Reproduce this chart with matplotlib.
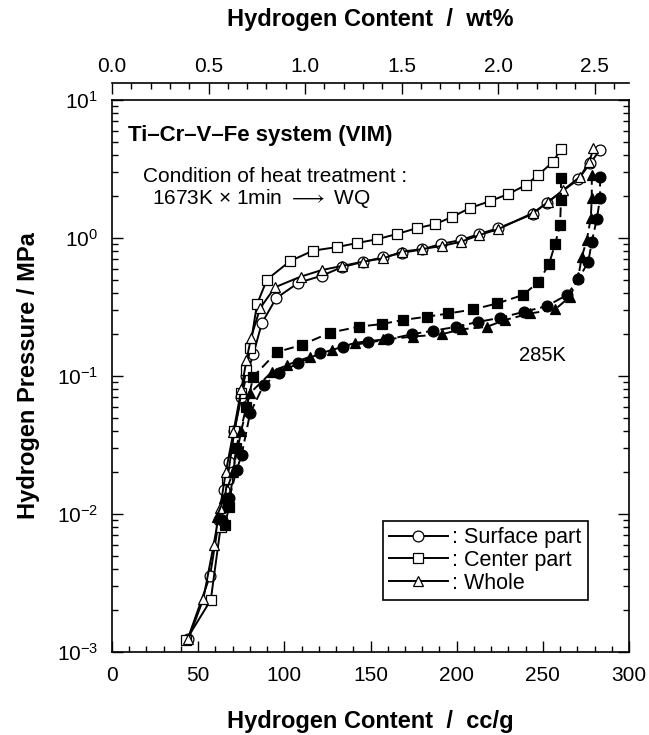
import matplotlib
matplotlib.use("Agg")
import matplotlib.pyplot as plt
from matplotlib.ticker import MultipleLocator, LogLocator, NullFormatter

plt.rcParams['font.family'] = ['Liberation Sans', 'DejaVu Sans']
plt.rcParams['mathtext.fontset'] = 'custom'
plt.rcParams['mathtext.rm'] = 'Liberation Sans'

# ---- data (cc/g, MPa) ----
surf_abs_x = [44, 56.9, 62, 65, 68, 71, 75, 78, 82, 86.9, 95.2, 108.1, 121.7, 133.3, 145.8, 157.4,
              168.5, 180.1, 190.9, 202.5, 213.1, 224.2, 244.1, 252.2, 270.6, 277.4, 283.2]
surf_abs_p = [0.00125, 0.00357, 0.009, 0.015, 0.024, 0.04, 0.07, 0.1, 0.144, 0.241, 0.366, 0.474, 0.533,
              0.614, 0.673, 0.725, 0.782, 0.828, 0.906, 0.968, 1.07, 1.18, 1.49, 1.80, 2.66, 3.48, 4.35]

cent_abs_x = [43, 57.3, 63, 67, 71, 75, 78, 80.1, 84.1, 89.9, 103.3, 116.6, 130.6, 142.2, 153.8, 165.4,
              177.0, 187.4, 197.3, 207.7, 219.3, 229.8, 240.2, 247.2, 255.9, 260.5]
cent_abs_p = [0.00122, 0.00238, 0.008, 0.018, 0.04, 0.075, 0.11, 0.16, 0.33, 0.50, 0.68, 0.81, 0.86,
              0.92, 0.98, 1.07, 1.18, 1.26, 1.42, 1.65, 1.85, 2.08, 2.42, 2.86, 3.56, 4.42]

whole_abs_x = [44.3, 53.0, 59, 62.7, 66, 70.4, 75, 78, 80.7, 85.9, 94.6, 109.5, 121.7, 133.3, 145.5,
               157.4, 168.5, 180.1, 191.3, 202.5, 213.1, 224.2, 244.3, 253.2, 261.9, 271.6, 277.0, 279.3]
whole_abs_p = [0.00124, 0.00243, 0.006, 0.011, 0.02, 0.039, 0.08, 0.13, 0.19, 0.31, 0.44, 0.525, 0.586,
               0.627, 0.673, 0.713, 0.797, 0.832, 0.875, 0.940, 1.05, 1.16, 1.52, 1.83, 2.23, 2.78, 3.57, 4.47]

surf_des_x = [283.2, 283.2, 281.3, 278.4, 276.4, 270.6, 263.9, 252.2, 239.1, 225.1, 212.6, 199.6, 186.4,
              173.9, 160.3, 148.7, 134.2, 120.7, 108.1, 97, 88, 80.1, 75.2, 72.3, 68, 64]
surf_des_p = [2.78, 1.94, 1.37, 0.94, 0.673, 0.502, 0.386, 0.321, 0.292, 0.264, 0.247, 0.227, 0.213,
              0.201, 0.184, 0.175, 0.163, 0.146, 0.124, 0.105, 0.086, 0.0537, 0.0268, 0.0208, 0.013, 0.009]

cent_des_x = [260.5, 260.5, 260.0, 257.1, 253.6, 247.4, 238.3, 223.6, 209.7, 195.2, 182.6, 169.0, 156.5,
              143.3, 126.5, 110.1, 95.6, 82.0, 78, 72, 67.9, 65.6]
cent_des_p = [2.71, 1.88, 1.24, 0.905, 0.648, 0.478, 0.386, 0.336, 0.304, 0.284, 0.269, 0.255, 0.238,
              0.228, 0.206, 0.168, 0.149, 0.099, 0.06, 0.03, 0.0113, 0.0083]

whole_des_x = [278.4, 278.4, 277.8, 275.5, 272.6, 270.6, 265.8, 257.1, 242.6, 228.1, 217.4, 202.9, 191.3,
               174.8, 157.4, 141.0, 127.5, 114.9, 101.4, 92.7, 80, 75, 70, 65, 60.7]
whole_des_p = [2.86, 1.94, 1.39, 0.968, 0.731, 0.525, 0.376, 0.304, 0.284, 0.255, 0.227, 0.218, 0.201,
               0.193, 0.184, 0.174, 0.154, 0.138, 0.120, 0.107, 0.075, 0.04, 0.02, 0.013, 0.0095]

wt_factor = 112.0  # cc/g per wt%

fig = plt.figure(figsize=(6.49, 7.35), dpi=100)
ax = fig.add_axes([0.1726, 0.1129, 0.7966, 0.7510])

ms = 7.8
lw = 1.4
dash = (0, (5, 2.5))
kw_open = dict(color='black', lw=lw, ms=ms, mfc='white', mec='black', mew=0.9)
kw_fill = dict(color='black', lw=lw, ms=ms, mfc='black', mec='black', mew=0.9, linestyle=dash)

l1, = ax.plot(surf_abs_x, surf_abs_p, marker='o', **kw_open)
l2, = ax.plot(cent_abs_x, cent_abs_p, marker='s', **kw_open)
l3, = ax.plot(whole_abs_x, whole_abs_p, marker='^', **kw_open)
ax.plot(surf_des_x, surf_des_p, marker='o', **kw_fill)
ax.plot(cent_des_x, cent_des_p, marker='s', **kw_fill)
ax.plot(whole_des_x, whole_des_p, marker='^', **kw_fill)

ax.set_yscale('log')
ax.set_xlim(0, 300)
ax.set_ylim(1e-3, 1e1)
ax.xaxis.set_major_locator(MultipleLocator(50))
ax.xaxis.set_minor_locator(MultipleLocator(10))
ax.yaxis.set_major_locator(LogLocator(base=10, numticks=10))
ax.yaxis.set_minor_locator(LogLocator(base=10, subs=range(2, 10), numticks=20))
ax.yaxis.set_minor_formatter(NullFormatter())
ax.tick_params(which='both', direction='in', top=True, right=True, labelsize=15, width=1)
ax.tick_params(which='major', length=8, pad=10)
ax.tick_params(which='minor', length=4)
for s in ax.spines.values():
    s.set_linewidth(1.2)

ax.set_xlabel('Hydrogen Content  /  cc/g', fontsize=17, fontweight='bold', labelpad=18)
ax.set_ylabel('Hydrogen Pressure / MPa', fontsize=17, fontweight='bold', labelpad=12)

# top wt% axis
ax2 = ax.twiny()
ax2.set_xlim(0, 300 / wt_factor)
ax2.spines['top'].set_position(('outward', 12.5))
for k in ['left', 'right', 'bottom']:
    ax2.spines[k].set_visible(False)
ax2.spines['top'].set_linewidth(1.2)
ax2.xaxis.set_major_locator(MultipleLocator(0.5))
ax2.xaxis.set_minor_locator(MultipleLocator(0.1))
ax2.xaxis.set_major_formatter(plt.FuncFormatter(lambda v, p: f'{v:.1f}'))
ax2.tick_params(which='both', direction='in', labelsize=15, width=1)
ax2.tick_params(which='major', length=8, pad=5)
ax2.tick_params(which='minor', length=4)
ax2.set_xlabel('Hydrogen Content  /  wt%', fontsize=17, fontweight='bold', labelpad=22)

# annotations
ax.text(0.03, 0.935, 'Ti\u2013Cr\u2013V\u2013Fe system (VIM)', transform=ax.transAxes,
        fontsize=16, fontweight='bold', va='center', ha='left')
ax.text(0.06, 0.862, 'Condition of heat treatment :', transform=ax.transAxes,
        fontsize=15, va='center', ha='left')
ax.text(0.078, 0.822, r'1673K $\times$ 1min $\longrightarrow$ WQ', transform=ax.transAxes,
        fontsize=15, va='center', ha='left')
ax.text(0.788, 0.537, '285K', transform=ax.transAxes, fontsize=14.5, va='center', ha='left')

leg = ax.legend([l1, l2, l3], [': Surface part', ': Center part', ': Whole'],
                loc='lower left', bbox_to_anchor=(0.524, 0.094), borderaxespad=0,
                fontsize=15.5, handlelength=2.7, handletextpad=0.2, labelspacing=0.08,
                fancybox=False, framealpha=1, edgecolor='black', borderpad=0.3)
leg.get_frame().set_linewidth(1.2)

fig.savefig('out.png', dpi=100)
